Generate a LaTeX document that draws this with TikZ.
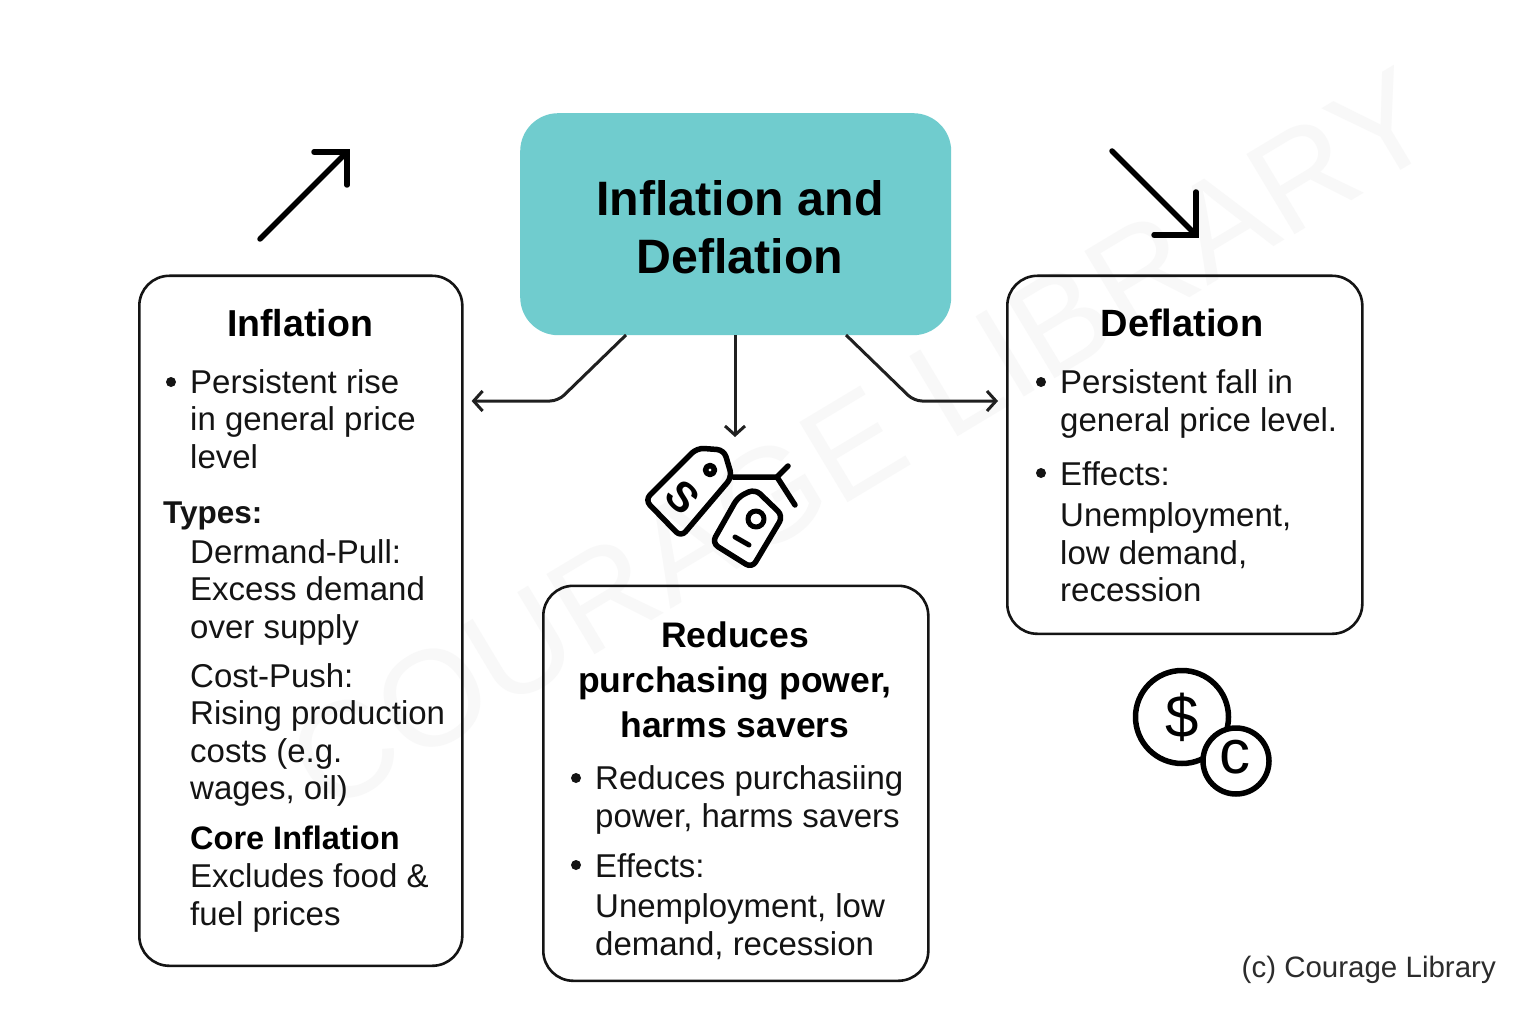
\documentclass[tikz,border=0pt]{standalone}
\usepackage{fontspec}
\setmainfont{Liberation Sans}
\usetikzlibrary{arrows.meta,calc}
\definecolor{teal1}{HTML}{70CCCE}
\definecolor{wm}{HTML}{F8F8F8}
\definecolor{ink}{HTML}{141414}
\tikzset{
 x=1pt,y=-1pt,
 card/.style={draw=ink,line width=2.6pt,rounded corners=30pt,inner sep=0pt,anchor=north west},
 body/.style={anchor=base west,inner sep=0pt,align=left,text=ink,font=\fontsize{33}{37.5}\selectfont},
 head/.style={anchor=base,inner sep=0pt,align=center,text=black,font=\fontsize{37.5}{45}\selectfont\bfseries},
 dot/.style={circle,fill=ink,inner sep=0pt,minimum size=10pt},
 conn/.style={draw=ink!95,line width=3pt,rounded corners=8pt,shorten >=8pt,-{Straight Barb[length=9pt,width=20pt,line width=3pt]}},
 bigarrow/.style={line width=5.5pt,line cap=round,line join=miter},
 icon/.style={line width=5.5pt,line cap=round,line join=round,draw=black},
}
\begin{document}
\begin{tikzpicture}
\useasboundingbox (0,0) rectangle (1536,1024);
\fill[white] (0,0) rectangle (1536,1024);
% watermark
\node[text=wm,rotate=31,inner sep=0pt,font=\fontsize{136}{136}\selectfont] (mark) at (862,440) {COURAGE LIBRARY};
% title
\node[draw=none,fill=teal1,rounded corners=38pt,minimum width=431pt,minimum height=222pt,anchor=north west,inner sep=0pt] (title) at (520,113) {};
\node[anchor=base,inner sep=0pt,text=black,align=center,font=\fontsize{48.3}{58}\selectfont\bfseries] (titletext) at (740,273.5) {Inflation and\\Deflation};
% cards
\node[card,minimum width=323pt,minimum height=690pt] (inf) at (138,274.5) {};
\node[card,minimum width=355pt,minimum height=358pt] (def) at (1006,274.5) {};
\node[card,minimum width=385pt,minimum height=395pt] (red) at (542,584.5) {};
% connectors
\coordinate (ls) at (626,335);
\coordinate (lb) at (558,401);
\coordinate (rs) at (846,335);
\coordinate (rb) at (914,401);
\coordinate (ce) at (735,437);
\draw[conn] (ls) -- (lb) -- (inf.east |- lb);
\draw[conn] (rs) -- (rb) -- (def.west |- rb);
\draw[conn,shorten >=0pt] (title.south -| ce) -- (ce);
% big arrows
\draw[bigarrow] (260,239) -- (346,153);
\draw[bigarrow] (314,152) -- (347,152) -- (347,185);
\draw[bigarrow] (1112,151) -- (1195,234);
\draw[bigarrow] (1154,235) -- (1196,235) -- (1196,192);
% inflation text
\node[head] (h1) at (300,336) {Inflation};
\node[dot] (d1) at (171,382) {};
\node[body] (t1) at (190,468) {Persistent rise\\in general price\\level};
\node[body,font=\fontsize{31.5}{37.5}\selectfont\bfseries] (t2) at (163,523) {Types:};
\node[body] (t3) at (190,638) {Dermand-Pull:\\Excess demand\\over supply};
\node[body] (t4) at (190,799.5) {Cost-Push:\\Rising production\\costs (e.g.\\wages, oil)};
\node[body,text=black,font=\fontsize{32.5}{37.5}\selectfont\bfseries] (t5) at (190,849) {Core Inflation};
\node[body] (t6) at (190,925) {Excludes food \&\\fuel prices};
% deflation text
\node[head,font=\fontsize{38}{45}\selectfont\bfseries] (h2) at (1182,336) {Deflation};
\node[dot] (d2) at (1041,382) {};
\node[body] (t7) at (1060,431) {Persistent fall in\\general price level.};
\node[dot] (d3) at (1041,473) {};
\node[body] (t8) at (1060,485) {Effects:};
\node[body] (t9) at (1060,601.5) {Unemployment,\\low demand,\\recession};
% reduces text
\node[head,font=\fontsize{35.5}{45}\selectfont\bfseries] (h3) at (735,737) {Reduces\\purchasing power,\\harms savers};
\node[dot] (d4) at (576,778) {};
\node[body] (t10) at (595,827) {Reduces purchasiing\\power, harms savers};
\node[dot] (d5) at (576,865) {};
\node[body] (t11) at (595,877) {Effects:};
\node[body] (t12) at (595,955) {Unemployment, low\\demand, recession};
% tags icon
\draw[icon] (733,477) -- (777,477) -- (788,466);
\draw[icon] (777,477) -- (795,505);
\draw[icon,rounded corners=7pt] (645,500) -- (697,448) -- (724,450) -- (732,477) -- (681,537) -- cycle;
\draw[icon,line width=5.5pt] (710,470) circle (4.5pt);
\node[inner sep=0pt,rotate=-45,font=\fontsize{42}{42}\selectfont] (dollar) at (683,497) {\bfseries S};
\draw[icon,fill=white,rounded corners=7pt] (712,543) -- (738,497) -- (755,489) -- (783,516) -- (752,568) -- cycle;
\draw[icon,line width=5pt] (756,519) circle (8pt);
\draw[icon,line width=5pt] (735,537) -- (749,545);
% coins icon
\draw[icon] (1182,717) circle (46.5pt);
\node[inner sep=0pt,font=\fontsize{60}{60}\selectfont] (usd) at (1182,717) {\$};
\draw[icon,fill=white] (1236,761) circle (33pt);
\node[inner sep=0pt,font=\fontsize{62}{62}\selectfont] (cent) at (1235,757) {c};
% credit
\node[anchor=base east,inner sep=0pt,text=ink!90,font=\fontsize{29.5}{36}\selectfont] (credit) at (1496,977) {(c) Courage Library};
\end{tikzpicture}
\end{document}
